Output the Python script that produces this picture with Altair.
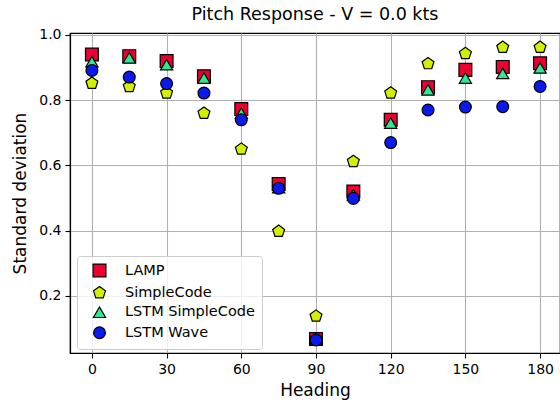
import altair as alt
import pandas as pd

headings = [0, 15, 30, 45, 60, 75, 90, 105, 120, 135, 150, 165, 180]
series_names = ["LAMP", "SimpleCode", "LSTM SimpleCode", "LSTM Wave"]
lamp = [0.94, 0.935, 0.92, 0.873, 0.773, 0.543, 0.068, 0.52, 0.74, 0.84, 0.893, 0.902, 0.913]
simplecode = [0.852, 0.842, 0.822, 0.76, 0.65, 0.398, 0.138, 0.612, 0.822, 0.912, 0.943, 0.962, 0.962]
lstm_simplecode = [0.918, 0.93, 0.909, 0.868, 0.76, 0.532, 0.068, 0.51, 0.73, 0.832, 0.868, 0.882, 0.899]
lstm_wave = [0.891, 0.871, 0.851, 0.822, 0.74, 0.53, 0.065, 0.499, 0.67, 0.77, 0.779, 0.78, 0.842]

fills = ["#ec0030", "#d2f000", "#2ee892", "#0a1aee"]
pentagon = "M0,-1L0.951,-0.309L0.588,0.809L-0.588,0.809L-0.951,-0.309Z"
shapes = ["square", pentagon, "triangle-up", "circle"]
sizes = [165, 140, 120, 92]

rows = []
for name, vals in zip(series_names, [lamp, simplecode, lstm_simplecode, lstm_wave]):
    for h, v in zip(headings, vals):
        rows.append({"Heading": h, "Value": v, "Series": name})
df = pd.DataFrame(rows)

FONT = "DejaVu Sans"

chart = alt.Chart(df).mark_point(
    filled=True, stroke="black", strokeWidth=1.2, opacity=1
).encode(
    x=alt.X("Heading:Q", scale=alt.Scale(domain=[-8.8, 188], nice=False, zero=False),
            axis=alt.Axis(values=[0, 30, 60, 90, 120, 150, 180], title="Heading")),
    y=alt.Y("Value:Q", scale=alt.Scale(domain=[0.025, 1.006], nice=False, zero=False),
            axis=alt.Axis(values=[0.2, 0.4, 0.6, 0.8, 1.0], format=".1f", title="Standard deviation")),
    color=alt.Color("Series:N", scale=alt.Scale(domain=series_names, range=fills),
                    legend=alt.Legend(title=None, orient="none", legendX=7, legendY=223)),
    shape=alt.Shape("Series:N", scale=alt.Scale(domain=series_names, range=shapes), legend=None),
    size=alt.Size("Series:N", scale=alt.Scale(domain=series_names, range=sizes), legend=None),
).properties(
    width=490, height=320,
    title=alt.TitleParams("Pitch Response - V = 0.0 kts", font=FONT, fontSize=17.5,
                          fontWeight="normal", color="black", offset=4),
    autosize=alt.AutoSizeParams(type="none"),
    padding={"left": 70, "top": 33, "right": 0, "bottom": 53},
).configure_view(
    stroke="black", strokeWidth=1.2
).configure_axis(
    labelFont=FONT, labelFontSize=14, labelColor="black",
    titleFont=FONT, titleFontSize=17, titleFontWeight="normal", titleColor="black",
    grid=True, gridColor="#b0b0b0", gridWidth=1.1,
    domainColor="black", domainWidth=1.2,
    tickColor="black", tickSize=5, tickWidth=1.1,
    labelPadding=4,
).configure_axisY(
    titlePadding=9
).configure_axisX(
    titlePadding=6
).configure_legend(
    labelFont=FONT, labelFontSize=14.5, labelColor="black",
    strokeColor="#cccccc", fillColor="rgba(255,255,255,0.8)", cornerRadius=3,
    padding=7, rowPadding=3.5, symbolSize=150, symbolStrokeColor="black",
    symbolStrokeWidth=1.2, labelOffset=18, symbolOffset=8,
)

chart.save("out.html", embed_options={"renderer": "svg", "actions": False})
